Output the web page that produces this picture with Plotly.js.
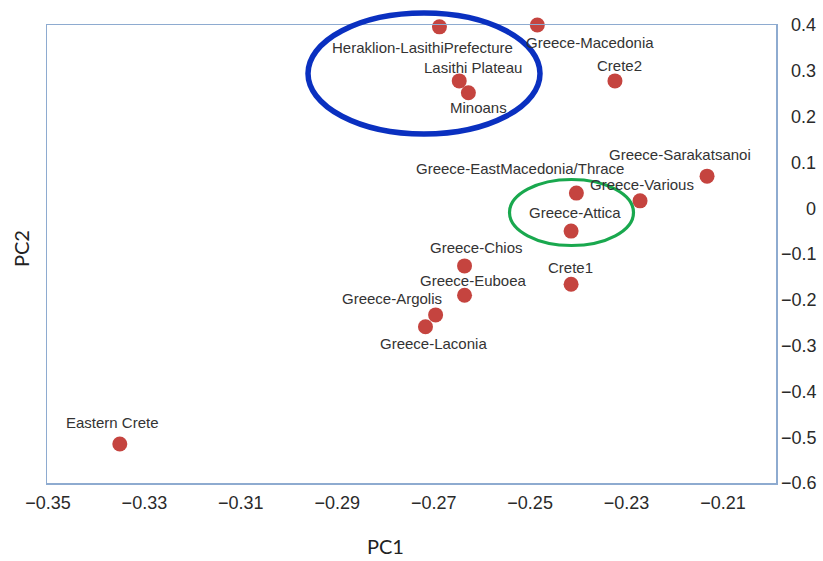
<!DOCTYPE html>
<html>
<head>
<meta charset="utf-8">
<script src="https://cdn.plot.ly/plotly-3.0.1.min.js"></script>
<style>
  html, body { margin: 0; padding: 0; background: #fff; }
  #chart { width: 823px; height: 561px; }
</style>
</head>
<body>
<div id="chart"></div>
<script>
// Population samples on the first two principal components
const populations = [
  'Heraklion-LasithiPrefecture', 'Greece-Macedonia', 'Lasithi Plateau', 'Minoans',
  'Crete2', 'Greece-Sarakatsanoi', 'Greece-EastMacedonia/Thrace', 'Greece-Various',
  'Greece-Attica', 'Greece-Chios', 'Crete1', 'Greece-Euboea',
  'Greece-Argolis', 'Greece-Laconia', 'Eastern Crete'
];
const pc1 = [
  -0.2688, -0.2485, -0.2647, -0.2628,
  -0.2324, -0.2133, -0.2404, -0.2272,
  -0.2415, -0.2636, -0.2415, -0.2636,
  -0.2696, -0.2717, -0.3351
];
const pc2 = [
  0.396, 0.400, 0.278, 0.252,
  0.278, 0.070, 0.033, 0.016,
  -0.050, -0.126, -0.166, -0.190,
  -0.233, -0.259, -0.515
];

// Right-hand axis tick values and their labels
const yTickVals = [0.4, 0.3, 0.2, 0.1, 0, -0.1, -0.2, -0.3, -0.4, -0.5, -0.6];
const yTickText = ['0.4', '0.3', '0.2', '0.1', '0', '\u22120.1', '\u22120.2', '\u22120.3', '\u22120.4', '\u22120.5', '\u22120.6'];

// Pad labels with figure/punctuation spaces so they line up on the right
function padRight(t) {
  const target = 4; // "−0.6" has four glyphs
  let s = t;
  if (!s.startsWith('\u2212')) s = '\u2007' + s;
  if (s.length < target) s = '\u2007\u2008' + s;
  return s;
}
const yTickPadded = yTickText.map(padRight);

// Label offsets (pixels) from each marker: [dx, dy] with dy pointing up
const labelOffsets = [
  [-17, -21], [53, -17], [14, 13], [10, -15],
  [5, 15], [-27, 22], [-56, 25], [2, 16],
  [4, 19], [12, 18], [-1, 17], [9, 15],
  [-44, 16], [8, -17], [-7, 22]
];

const labelFont = { family: '"Liberation Sans", Arial, sans-serif', size: 15, color: '#333333' };

const annotations = populations.map((name, i) => ({
  x: pc1[i], y: pc2[i], xref: 'x', yref: 'y',
  text: name, showarrow: false,
  xanchor: 'center', yanchor: 'middle',
  xshift: labelOffsets[i][0], yshift: labelOffsets[i][1],
  font: labelFont
}));

// Axis titles
const titleFont = { family: 'Lato, "Open Sans", sans-serif', size: 20, color: '#222222' };
annotations.push({
  xref: 'paper', yref: 'paper', x: (385 - 47) / 729, y: (483 - 546) / 458,
  text: 'PC1', showarrow: false, xanchor: 'center', yanchor: 'middle',
  font: titleFont
});
annotations.push({
  xref: 'paper', yref: 'paper', x: (21 - 47) / 729, y: (483 - 249) / 458,
  text: 'PC2', showarrow: false, xanchor: 'center', yanchor: 'middle', textangle: -90,
  font: titleFont
});

const trace = {
  type: 'scatter', mode: 'markers',
  x: pc1, y: pc2, text: populations,
  marker: { size: 15, color: '#c5443f', line: { width: 0 } },
  cliponaxis: false,
  hoverinfo: 'text'
};

const tickFont = { family: '"Liberation Sans", Arial, sans-serif', size: 18, color: '#2a2a2a' };

const layout = {
  width: 823, height: 561,
  margin: { l: 47, r: 47, t: 25, b: 78 },
  paper_bgcolor: '#ffffff', plot_bgcolor: '#ffffff',
  showlegend: false,
  xaxis: {
    range: [-0.3502, -0.199],
    tickmode: 'linear', tick0: -0.35, dtick: 0.02,
    showgrid: false, zeroline: false,
    showline: true, mirror: true, linecolor: '#8eabd0', linewidth: 1.5,
    ticks: '', tickfont: tickFont, ticklabelstandoff: 3
  },
  yaxis: {
    range: [-0.6, 0.4], side: 'right',
    tickmode: 'array', tickvals: yTickVals, ticktext: yTickPadded,
    showgrid: false, zeroline: false,
    showline: true, mirror: true, linecolor: '#8eabd0', linewidth: 1.5,
    ticks: '', tickfont: tickFont, ticklabelstandoff: 0
  },
  annotations: annotations,
  shapes: [
    {
      type: 'circle', xref: 'paper', yref: 'paper', layer: 'above',
      x0: (308 - 47) / 729, x1: (540 - 47) / 729,
      y0: (483 - 134) / 458, y1: (483 - 13) / 458,
      line: { color: '#0a30c0', width: 5.5 }
    },
    {
      type: 'circle', xref: 'paper', yref: 'paper', layer: 'above',
      x0: (509.5 - 47) / 729, x1: (633.5 - 47) / 729,
      y0: (483 - 245.5) / 458, y1: (483 - 179.5) / 458,
      line: { color: '#19a84e', width: 3.2 }
    }
  ]
};

Plotly.newPlot('chart', [trace], layout, { displayModeBar: false, staticPlot: true });
</script>
</body>
</html>
